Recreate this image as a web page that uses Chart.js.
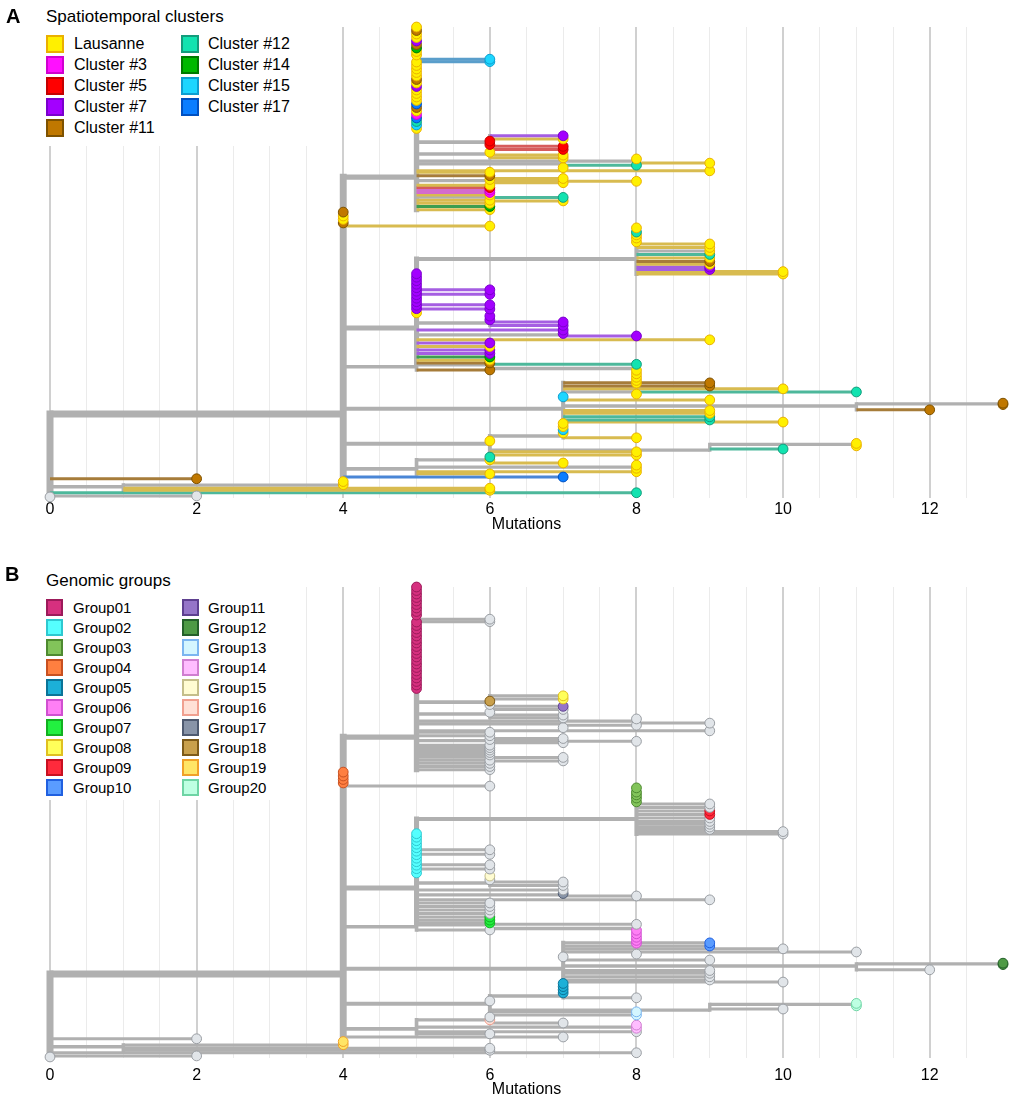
<!DOCTYPE html>
<html>
<head>
<meta charset="UTF-8">
<title>Spatiotemporal clusters / Genomic groups</title>
<script src="https://cdn.jsdelivr.net/npm/chart.js"></script>
<style>
  body { margin: 0; background: #fff; font-family: 'Liberation Sans', Arial, sans-serif; }
  #page { position: relative; width: 1013px; height: 1102px; overflow: hidden; }
  canvas { position: absolute; left: 0; }
  .panel { position: absolute; font-weight: bold; font-size: 20px; line-height: 1; }
  .legend { position: absolute; background: #fff; }
  .ltitle { position: absolute; font-size: 17px; line-height: 1; white-space: nowrap; }
  .sw { position: absolute; box-sizing: border-box; border: 2px solid; }
  .lab { position: absolute; line-height: 1; white-space: nowrap; }
</style>
</head>
<body>
<div id="page">
  <canvas id="chartA" width="1013" height="545" style="top:0"></canvas>
  <canvas id="chartB" width="1013" height="542" style="top:560px"></canvas>
  <div class="legend" id="legA" style="left:38px; top:0; width:272px; height:146px"></div>
  <div class="legend" id="legB" style="left:38px; top:560px; width:268px; height:240px"></div>
  <div class="panel" style="left:6px; top:6px">A</div>
  <div class="panel" style="left:5px; top:564px">B</div>
</div>
<script>
// legend entries
const clusterNames = ['Lausanne', 'Cluster #3', 'Cluster #5', 'Cluster #7', 'Cluster #11',
                      'Cluster #12', 'Cluster #14', 'Cluster #15', 'Cluster #17'];
const groupNames = ['Group01', 'Group02', 'Group03', 'Group04', 'Group05', 'Group06', 'Group07',
                    'Group08', 'Group09', 'Group10', 'Group11', 'Group12', 'Group13', 'Group14',
                    'Group15', 'Group16', 'Group17', 'Group18', 'Group19', 'Group20'];
const xTicks = [0, 2, 4, 6, 8, 10, 12];

// cluster codes (panel A), -1 = no cluster
const L = 0, C3 = 1, C5 = 2, C7 = 3, C11 = 4, C12 = 5, C14 = 6, C15 = 7, C17 = 8, NA = -1;

// internal nodes: id, parent, mutations, row (tree order, top = 0)
const nodes = [
  ['root', null, 0, 110.6],
  ['n4', 'root', 4, 110.6],
  ['n1', 'root', 1, 131.4],
  ['n4b', 'n1', 4, 130.9],
  ['n5a', 'n4', 5, 42.9],
  ['n6b', 'n5a', 6, 32.9],
  ['n6f', 'n5a', 6, 36.3],
  ['n8d', 'n5a', 8, 38.3],
  ['n7e', 'n5a', 7, 39.1],
  ['n6g', 'n5a', 6, 43.9],
  ['n6h', 'n5a', 6, 48.6],
  ['n5b', 'n4', 5, 86],
  ['n8a', 'n5b', 8, 66.3],
  ['n9b', 'n8a', 9, 64],
  ['n6c', 'n5b', 6, 84.6],
  ['n7b', 'n5b', 7, 88],
  ['n5c', 'n4', 5, 97.1],
  ['n6d', 'n5c', 6, 96.5],
  ['n8b', 'n6d', 8, 97.6],
  ['n7a', 'n4', 7, 109.1],
  ['n8c', 'n7a', 8, 104.3],
  ['n11', 'n7a', 11, 108.3],
  ['n13', 'n11', 13, 107.7],
  ['n6a', 'n4', 6, 119.1],
  ['n7c', 'n6a', 7, 116.9],
  ['n9', 'n6a', 9, 120.9],
  ['n11b', 'n9', 11, 119.3],
  ['n5d', 'n4', 5, 126.3],
  ['n6e', 'n5d', 6, 123.7],
  ['n8f', 'n5d', 8, 125.8]
];

// tips: parent, mutations, row, cluster (A), genomic group (B, 0 = none)
const tips = [
  ['n5a', 5, 0, L, 1], ['n5a', 5, 1, C11, 1], ['n5a', 5, 2, L, 1], ['n5a', 5, 3, L, 1],
  ['n5a', 5, 4, C7, 1], ['n5a', 5, 5, C11, 1], ['n5a', 5, 6, C14, 1], ['n5a', 5, 7, L, 1],
  ['n5a', 5, 8, L, 1],
  ['n5a', 6, 9.2, C15, 0], ['n5a', 6, 9.9, C15, 0],
  ['n5a', 5, 10, L, 1], ['n5a', 5, 11, L, 1], ['n5a', 5, 12, L, 1], ['n5a', 5, 13, L, 1],
  ['n5a', 5, 14, L, 1], ['n5a', 5, 15, C11, 1], ['n5a', 5, 16, L, 1], ['n5a', 5, 17, C7, 1],
  ['n5a', 5, 18, L, 1], ['n5a', 5, 19, L, 1], ['n5a', 5, 20, L, 1], ['n5a', 5, 21, L, 1],
  ['n5a', 5, 22, C17, 1], ['n5a', 5, 23, C11, 1], ['n5a', 5, 24, L, 1], ['n5a', 5, 25, C3, 1],
  ['n5a', 5, 26, C17, 1], ['n5a', 5, 27, C12, 1], ['n5a', 5, 28, C15, 1], ['n5a', 5, 29, L, 1],
  ['n6b', 7, 31.1, C7, 8], ['n6b', 7, 32, L, 8], ['n6b', 6, 32.6, C5, 18], ['n6b', 6, 33.6, C5, 0],
  ['n6b', 7, 34.1, C5, 11], ['n6b', 7, 35, C5, 0],
  ['n6f', 6, 35.8, L, 0], ['n6f', 7, 36.6, L, 0], ['n6f', 7, 37.4, L, 0],
  ['n8d', 8, 37.7, L, 0], ['n8d', 9, 38.9, L, 0],
  ['n7e', 7, 40.2, L, 0], ['n7e', 8, 39.5, C12, 0],
  ['n5a', 9, 41.1, L, 0],
  ['n5a', 6, 41.5, L, 0], ['n5a', 6, 42.5, C11, 0],
  ['n6g', 6, 43.6, L, 0], ['n6g', 7, 43.3, L, 0], ['n6g', 7, 44.5, L, 0], ['n6g', 8, 44.1, L, 0],
  ['n5a', 6, 45.2, L, 0], ['n5a', 6, 45.9, C5, 0], ['n5a', 6, 46.6, C3, 0], ['n5a', 6, 47.3, C3, 0],
  ['n5a', 6, 48, L, 0],
  ['n6h', 7, 48.7, C12, 0], ['n6h', 7, 49.7, L, 0],
  ['n5a', 6, 49.5, L, 0], ['n5a', 6, 50.4, L, 0], ['n5a', 6, 51.3, C14, 0], ['n5a', 6, 52.2, L, 0],
  ['n4', 4, 52.9, C11, 4], ['n4', 4, 54, L, 4], ['n4', 4, 55, L, 4], ['n4', 4, 56, C11, 4],
  ['n4', 6, 56.9, L, 0],
  ['n8a', 8, 57.4, L, 3], ['n8a', 8, 58.6, C12, 3], ['n8a', 8, 59.4, L, 3], ['n8a', 8, 60.3, L, 3],
  ['n8a', 8, 61.4, L, 3],
  ['n8a', 9, 62, L, 0], ['n8a', 9, 63, L, 0], ['n9b', 9, 64, L, 9], ['n8a', 9, 65, C12, 9],
  ['n8a', 9, 66, L, 0], ['n8a', 9, 67, C11, 0], ['n8a', 9, 67.8, L, 0], ['n8a', 9, 68.6, C7, 0],
  ['n8a', 9, 69.3, C7, 0], ['n8a', 10, 69.9, L, 0], ['n8a', 10, 70.6, L, 0],
  ['n5b', 5, 70.5, C7, 2], ['n5b', 5, 71.5, C7, 2], ['n5b', 5, 72.5, C7, 2], ['n5b', 5, 73.5, C7, 2],
  ['n5b', 5, 74.5, C7, 2], ['n5b', 5, 75.5, C7, 2], ['n5b', 5, 76.5, C7, 2], ['n5b', 5, 77.5, C7, 2],
  ['n5b', 5, 78.5, C7, 2], ['n5b', 5, 79.5, C7, 2], ['n5b', 5, 80.5, C7, 2], ['n5b', 5, 81.7, L, 2],
  ['n5b', 6, 75.1, C7, 0], ['n5b', 6, 76.4, C7, 0], ['n5b', 6, 79.4, C7, 0], ['n5b', 6, 80.6, C7, 0],
  ['n6c', 6, 82.6, C7, 15], ['n6c', 6, 83.7, C7, 0], ['n6c', 7, 84.3, C7, 0], ['n6c', 7, 85.3, C7, 0],
  ['n5b', 7, 86.6, C7, 0],
  ['n7b', 7, 87.6, C7, 17], ['n7b', 8, 88.3, C7, 0],
  ['n5b', 9, 89.4, L, 0],
  ['n5b', 6, 90.3, C7, 0], ['n5b', 6, 91.3, L, 0], ['n5b', 6, 92.3, C7, 0], ['n5b', 6, 93.3, C7, 0],
  ['n5b', 6, 94.3, C14, 7], ['n5b', 6, 95.2, L, 7], ['n5b', 6, 96, C11, 7],
  ['n6d', 8, 96.4, C12, 0],
  ['n8b', 8, 98.1, L, 6], ['n8b', 8, 99.1, L, 6], ['n8b', 8, 100.1, L, 6], ['n8b', 8, 101, L, 6],
  ['n8b', 8, 101.8, L, 6],
  ['n5c', 6, 98, C11, 0],
  ['n7a', 9, 101.7, C11, 10], ['n7a', 9, 102.6, C11, 10], ['n7a', 10, 103.4, L, 0],
  ['n8c', 8, 104.9, L, 0], ['n8c', 11, 104.3, C12, 0],
  ['n7a', 7, 105.7, C15, 0], ['n7a', 9, 106.6, L, 0],
  ['n13', 13, 107.5, C11, 12], ['n13', 13, 107.9, C11, 12], ['n11', 12, 109.4, C11, 0],
  ['n7a', 9, 109.6, L, 0], ['n7a', 9, 110.4, L, 0], ['n7a', 9, 111.4, C12, 0], ['n7a', 9, 112.3, C12, 0],
  ['n7a', 10, 112.9, L, 0],
  ['n7c', 7, 113.3, L, 5], ['n7c', 7, 114.2, L, 5], ['n7c', 7, 115.1, C15, 5], ['n7c', 7, 116, L, 5],
  ['n7c', 8, 117.4, L, 0],
  ['n6a', 6, 118.3, L, 0],
  ['n11b', 11, 119, L, 20], ['n11b', 11, 119.7, L, 20], ['n9', 10, 120.6, C12, 0],
  ['n6a', 8, 121.4, L, 13], ['n6a', 8, 122.3, L, 13],
  ['n6e', 6, 122.9, C12, 0], ['n6e', 6, 123.7, L, 16], ['n6e', 7, 124.6, L, 0],
  ['n8f', 8, 125.2, L, 14], ['n8f', 8, 126.1, L, 14],
  ['n5d', 8, 127.1, L, 0], ['n5d', 6, 127.7, L, 0],
  ['n4', 7, 128.6, C17, 0],
  ['root', 2, 129.1, C11, 0],
  ['n4b', 4, 129.9, L, 19], ['n4b', 4, 130.8, L, 19],
  ['n1', 6, 131.8, L, 0], ['n1', 6, 132.4, L, 0],
  ['root', 8, 133.1, C12, 0], ['root', 2, 134, NA, 0], ['root', 0, 134.3, NA, 0]
];

// ---- styles ----
const FONT = "'Liberation Sans', Arial, sans-serif";
const GRAY = '#b0b0b0';
const TIP_W = 3;
const clusterFill   = ['#FFF000', '#FF10FF', '#FF0000', '#A300FF', '#C07800', '#12E3B0', '#00B800', '#1CD6FF', '#0A7DFF'];
const clusterBorder = ['#EAB000', '#D000D0', '#C40000', '#7A00CC', '#7E5200', '#139C7C', '#007A00', '#0E9ED0', '#0050C0'];
const clusterEdge   = ['#d8bb50', '#d46ccc', '#d65c5c', '#a55ee2', '#a67c3a', '#4db89b', '#3c9e50', '#5a9ecb', '#4a86d6'];
const groupFill   = ['#D6307F', '#55FFFF', '#82C45A', '#FF7F40', '#1CB0D8', '#FF7FF5', '#22F040', '#FFFF5A', '#FF2A3C', '#5A9CFF',
                     '#9575C8', '#4E9A45', '#D4F6FF', '#FFBDFF', '#FFFCD2', '#FFE0D6', '#8894A8', '#C9A04C', '#FFE566', '#BEFFE2'];
const groupBorder = ['#9C1A5A', '#2EC8D0', '#4E8A30', '#C85020', '#0A7498', '#D050D0', '#12B020', '#E0C020', '#C81020', '#2060E0',
                     '#5E4090', '#24602A', '#7CB6F0', '#D07ED0', '#C4BE8A', '#F0A090', '#4E5A70', '#7E5A18', '#F0A028', '#6ED4A4'];
const NONE_FILL = '#e1e5e9', NONE_BORDER = '#9a9ea3';

// ---- tree bookkeeping ----
const byId = {};
nodes.forEach(n => { byId[n[0]] = n; });
const childRows = {};
nodes.forEach(n => { childRows[n[0]] = []; });
nodes.forEach(n => { if (n[1]) childRows[n[1]].push(n[3]); });
tips.forEach(t => { childRows[t[0]].push(t[2]); });

const tipCount = {};
nodes.forEach(n => { tipCount[n[0]] = 0; });
tips.forEach(t => {
  let id = t[0];
  while (id) { tipCount[id]++; id = byId[id][1]; }
});
const TOTAL = tips.length;
const widthOf = id => 2.8 + 4.2 * Math.sqrt(tipCount[id] / TOTAL);

const seg = (pts, color, w, cap, order) => ({
  data: pts, showLine: true, borderColor: color, borderWidth: w, borderCapStyle: cap,
  pointRadius: 0, pointHoverRadius: 0, order: order, clip: false, tension: 0
});

function buildDatasets(panel) {
  const sets = [];
  nodes.forEach(n => {
    const ys = childRows[n[0]].concat([n[3]]);
    sets.push(seg([{ x: n[2], y: Math.min(...ys) }, { x: n[2], y: Math.max(...ys) }],
                  GRAY, widthOf(n[0]), 'square', 4));
  });
  nodes.forEach(n => {
    if (!n[1]) return;
    const p = byId[n[1]];
    sets.push(seg([{ x: p[2], y: n[3] }, { x: n[2], y: n[3] }], GRAY, widthOf(n[0]), 'butt', 3));
  });
  tips.forEach(t => {
    const p = byId[t[0]];
    if (t[1] === p[2]) return;
    const coloured = panel === 'A' && t[3] >= 0;
    sets.push(seg([{ x: p[2], y: t[2] }, { x: t[1], y: t[2] }],
                  coloured ? clusterEdge[t[3]] : GRAY, TIP_W, 'butt', coloured ? 1 : 2));
  });
  const sorted = tips.slice().sort((a, b) => b[2] - a[2]);
  const fill = t => panel === 'A' ? (t[3] >= 0 ? clusterFill[t[3]] : NONE_FILL)
                                   : (t[4] > 0 ? groupFill[t[4] - 1] : NONE_FILL);
  const border = t => panel === 'A' ? (t[3] >= 0 ? clusterBorder[t[3]] : NONE_BORDER)
                                     : (t[4] > 0 ? groupBorder[t[4] - 1] : NONE_BORDER);
  sets.push({
    data: sorted.map(t => ({ x: t[1], y: t[2] })),
    showLine: false, order: 0, clip: false,
    pointRadius: 4.9, pointBorderWidth: 1,
    pointBackgroundColor: sorted.map(fill),
    pointBorderColor: sorted.map(border)
  });
  return sets;
}

function makeChart(canvasId, panel, axisH, tickPad, titlePad) {
  new Chart(document.getElementById(canvasId), {
    type: 'scatter',
    data: { datasets: buildDatasets(panel) },
    options: {
      responsive: false,
      animation: false,
      events: [],
      layout: { padding: { top: 27, left: 50, right: 10, bottom: 0 } },
      plugins: { legend: { display: false }, tooltip: { enabled: false } },
      scales: {
        x: {
          type: 'linear', min: 0, max: 13,
          afterFit: s => { s.height = axisH; },
          border: { display: false },
          grid: {
            drawTicks: false,
            color: c => {
              const v = c.tick ? c.tick.value : null;
              if (v === null || v >= 13) return 'rgba(0,0,0,0)';
              return v % 2 === 0 ? '#d0d0d0' : '#ebebeb';
            },
            lineWidth: c => (c.tick && c.tick.value % 2 === 0) ? 2 : 1
          },
          ticks: {
            stepSize: 0.5, autoSkip: false, maxRotation: 0, padding: tickPad,
            color: '#000', font: { family: FONT, size: 16 },
            callback: v => xTicks.includes(v) ? String(v) : ''
          },
          title: {
            display: true, text: 'Mutations', color: '#000',
            font: { family: FONT, size: 16 }, padding: { top: 0, bottom: titlePad }
          }
        },
        y: { type: 'linear', display: false, min: 0, max: 134.6, reverse: true }
      }
    }
  });
}

makeChart('chartA', 'A', 47, 2.4, 10.4);
makeChart('chartB', 'B', 44, 8.4, 2.4);

// ---- legends ----
function legend(el, title, names, fills, borders, perCol, cfg) {
  const box = document.getElementById(el);
  const left = box.offsetLeft, top = box.offsetTop;
  const t = document.createElement('div');
  t.className = 'ltitle';
  t.textContent = title;
  t.style.left = (cfg.x0 - left) + 'px';
  t.style.top = (cfg.titleY - top - 9) + 'px';
  box.appendChild(t);
  names.forEach((name, i) => {
    const col = Math.floor(i / perCol), row = i % perCol;
    const cy = cfg.rowY + row * cfg.rowH;
    const sw = document.createElement('div');
    sw.className = 'sw';
    sw.style.width = sw.style.height = cfg.sw + 'px';
    sw.style.left = ((col ? cfg.x1 : cfg.x0) - left) + 'px';
    sw.style.top = (cy - cfg.sw / 2 - top) + 'px';
    sw.style.background = fills[i];
    sw.style.borderColor = borders[i];
    box.appendChild(sw);
    const lb = document.createElement('div');
    lb.className = 'lab';
    lb.textContent = name;
    lb.style.fontSize = cfg.fs + 'px';
    lb.style.left = ((col ? cfg.tx1 : cfg.tx0) - left) + 'px';
    lb.style.top = (cy - cfg.fs / 2 - top) + 'px';
    box.appendChild(lb);
  });
}
legend('legA', 'Spatiotemporal clusters', clusterNames, clusterFill, clusterBorder, 5,
       { x0: 46, x1: 181, tx0: 74, tx1: 208, titleY: 17, rowY: 44, rowH: 21, sw: 18, fs: 16 });
legend('legB', 'Genomic groups', groupNames, groupFill, groupBorder, 10,
       { x0: 46, x1: 182, tx0: 73, tx1: 208, titleY: 581, rowY: 607, rowH: 20.1, sw: 17, fs: 15 });
</script>
</body>
</html>
